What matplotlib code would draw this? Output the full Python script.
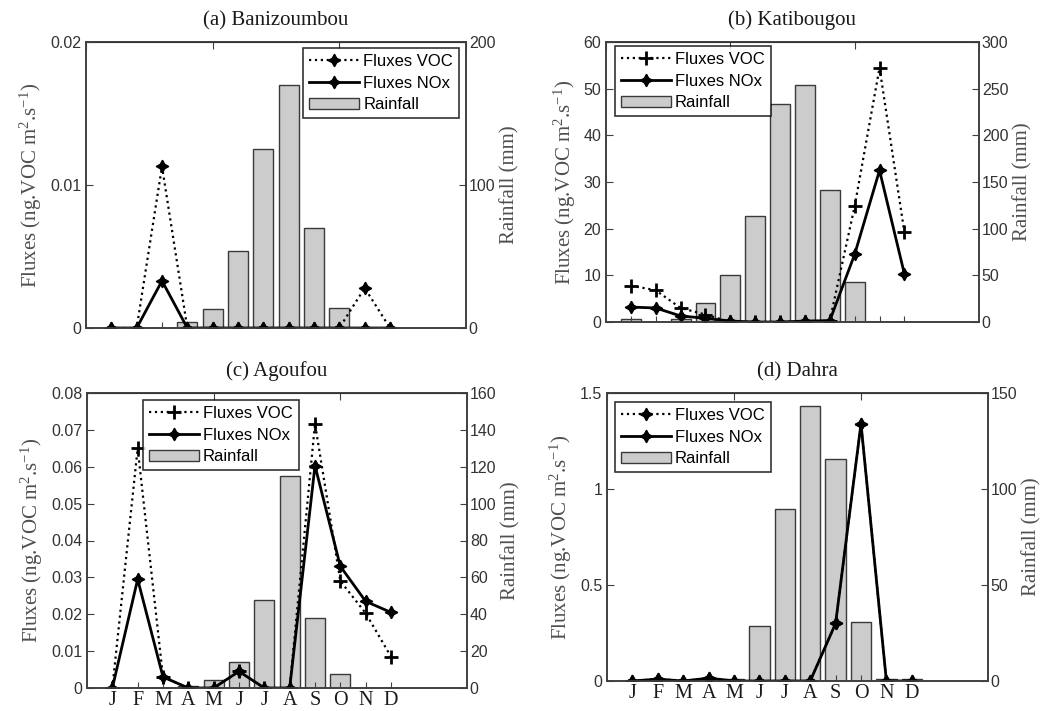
import matplotlib
matplotlib.use("Agg")
import matplotlib.pyplot as plt
from matplotlib.ticker import FuncFormatter

plt.rcParams['font.family'] = ['Liberation Sans', 'DejaVu Sans']
plt.rcParams['mathtext.fontset'] = 'custom'
plt.rcParams['mathtext.rm'] = 'Liberation Serif'
plt.rcParams['mathtext.it'] = 'Liberation Serif:italic'

SERIF = ['Liberation Serif', 'DejaVu Serif']

months = ['J', 'F', 'M', 'A', 'M', 'J', 'J', 'A', 'S', 'O', 'N', 'D']
x = list(range(1, 13))

# (a) Banizoumbou
rain_a = [0, 0, 0, 4, 13, 54, 125, 170, 70, 14, 0, 0]
voc_a = [0, 0, 0.0113, 0, 0, 0, 0, 0, 0, 0, 0.0028, 0]
nox_a = [0, 0, 0.0033, 0, 0, 0, 0, 0, 0, 0, 0, 0]

# (b) Katibougou
rain_b = [3, 0.5, 3.6, 20.7, 50, 113.6, 234, 254, 141, 42.5, 0.5, 0.5]
voc_b = [7.8, 6.8, 3.0, 1.6, 0, 0, 0, 0, 0.3, 24.8, 54.5, 19.2]
nox_b = [3.2, 3.0, 1.3, 0.8, 0.2, 0, 0, 0.2, 0.3, 14.5, 32.5, 10.3]

# (c) Agoufou
rain_c = [0, 0, 0, 1, 4.5, 14, 48, 115, 38, 7.8, 0, 0]
voc_c = [0, 0.065, 0.003, 0, 0, 0.0045, 0, 0, 0.0717, 0.029, 0.0203, 0.0085]
nox_c = [0, 0.0295, 0.003, 0, 0, 0.0045, 0, 0, 0.0603, 0.033, 0.0235, 0.0205]

# (d) Dahra
rain_d = [0, 0, 0, 0, 1.2, 28.5, 89.4, 143, 115.6, 30.7, 1.2, 1.2]
voc_d = [0, 0.01, 0, 0.015, 0, 0, 0, 0, 0.30, 1.34, 0, 0]
nox_d = [0, 0.01, 0, 0.015, 0, 0, 0, 0, 0.30, 1.34, 0, 0]

W, H = 1042, 711
fig = plt.figure(figsize=(W / 100, H / 100), dpi=100)

STAR = (4, 1, 0)
fmt = FuncFormatter(lambda v, p: '%g' % round(v, 6))


def panel(box, title, rain, voc, nox, yl, yr, legpos, voc_marker, show_months):
    left, top, width, height = box
    ax = fig.add_axes([left / W, (H - top - height) / H, width / W, height / H])
    ax2 = ax.twinx()
    ax.set_zorder(ax2.get_zorder() + 1)
    ax.patch.set_visible(False)

    bars = ax2.bar(x, rain, width=0.8, color='#cccccc', edgecolor='#3a3a3a',
                   linewidth=1.0, label='Rainfall')
    if voc_marker == '+':
        l1, = ax.plot(x, voc, ':', color='black', lw=1.6, marker='+', ms=10, mew=2,
                      label='Fluxes VOC')
    else:
        l1, = ax.plot(x, voc, ':', color='black', lw=1.6, marker=STAR, ms=9,
                      label='Fluxes VOC')
    l2, = ax.plot(x, nox, '-', color='black', lw=2, marker=STAR, ms=9,
                  label='Fluxes NOx')

    ax.set_xlim(0, 15)
    ax.set_ylim(0, yl[-1])
    ax.set_yticks(yl)
    ax2.set_ylim(0, yr[-1])
    ax2.set_yticks(yr)
    ax.yaxis.set_major_formatter(fmt)
    ax2.yaxis.set_major_formatter(fmt)

    ax.set_xticks(x)
    if show_months:
        ax.set_xticklabels(months, family=SERIF, fontsize=14.5, color='#1a1a1a')
    else:
        ax.set_xticklabels([])
    ax.tick_params(axis='x', direction='in', length=4, pad=2, color='#404040')
    ax.tick_params(axis='y', direction='in', length=5, labelsize=11.5,
                   labelcolor='#333333', color='#404040')
    ax2.tick_params(axis='y', direction='in', length=5, labelsize=11.5,
                    labelcolor='#333333', color='#404040', pad=2)
    top_ax = ax.secondary_xaxis('top')
    top_ax.set_xticks([0, 5, 10, 15])
    top_ax.set_xticklabels([])
    top_ax.tick_params(direction='in', length=5, color='#404040')

    for a in (ax, ax2):
        for s in a.spines.values():
            s.set_color('#404040')
            s.set_linewidth(1.2)

    ax.set_ylabel('Fluxes (ng.VOC m$^{2}$.s$^{-1}$)', family=SERIF, fontsize=15,
                  color='#505050', labelpad=4)
    ax2.set_ylabel('Rainfall (mm)', family=SERIF, fontsize=15, color='#505050',
                   labelpad=3)
    ax.set_title(title, family=SERIF, fontsize=15, color='#1a1a1a', pad=12)

    loc, lx, ly = legpos
    leg = ax.legend([l1, l2, bars], ['Fluxes VOC', 'Fluxes NOx', 'Rainfall'],
                    loc=loc, bbox_to_anchor=((lx - left) / width, (top + height - ly) / height),
                    borderaxespad=0, fancybox=False, edgecolor='black', fontsize=12,
                    handlelength=3.0, handletextpad=0.25, labelspacing=0.4,
                    borderpad=0.35)
    leg.get_frame().set_linewidth(1.2)
    leg.set_zorder(10)


panel((86, 42, 380, 286), '(a) Banizoumbou', rain_a, voc_a, nox_a,
      [0, 0.01, 0.02], [0, 100, 200], ('upper right', 459, 48), 'star', False)
panel((606, 42, 373, 280), '(b) Katibougou', rain_b, voc_b, nox_b,
      [0, 10, 20, 30, 40, 50, 60], [0, 50, 100, 150, 200, 250, 300],
      ('upper left', 615, 46), '+', False)
panel((87, 393, 380, 295), '(c) Agoufou', rain_c, voc_c, nox_c,
      [0, 0.01, 0.02, 0.03, 0.04, 0.05, 0.06, 0.07, 0.08],
      [0, 20, 40, 60, 80, 100, 120, 140, 160], ('upper left', 143, 400), '+', True)
panel((607, 393, 381, 288), '(d) Dahra', rain_d, voc_d, nox_d,
      [0, 0.5, 1, 1.5], [0, 50, 100, 150], ('upper left', 615, 402), 'star', True)

fig.savefig('out.png', dpi=100)
